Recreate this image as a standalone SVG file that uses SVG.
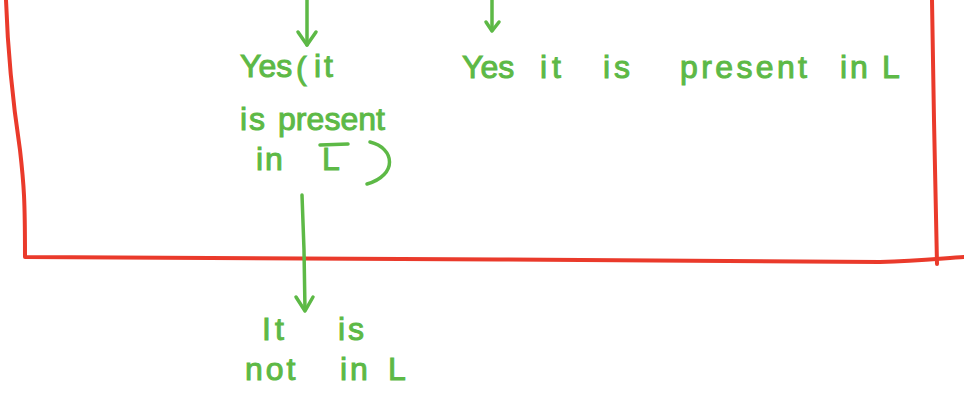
<svg xmlns="http://www.w3.org/2000/svg" width="964" height="396" viewBox="0 0 964 396">
<style>
.red{fill:none;stroke:#ea3a2b;stroke-width:4;stroke-linecap:round;stroke-linejoin:round}
.g{fill:none;stroke:#5db946;stroke-width:3.5;stroke-linecap:round;stroke-linejoin:round}
.t{font-family:"Liberation Sans",Arial,sans-serif;font-size:32px;fill:#5db946;stroke:#5db946;stroke-width:1}
</style>
<g id="frame">
<path class="red" d="M6,0 C8,60 14,110 20,150 C24,185 25,200 25,257 C300,258 600,260 880,262 C920,261 945,258 964,257"/>
<path class="red" d="M932,0 L934,120 L937,264"/>
</g>
<g id="connectors">
<path class="g" d="M307,0 L307,45"/>
<path class="g" d="M298,32 L307,45 L316,32"/>
<path class="g" d="M492,0 L492,30"/>
<path class="g" d="M486,22 L492,31 L499,22"/>
<path class="g" d="M302,195 L304,250 L305,310"/>
<path class="g" d="M296,297 L305,311 L313,297"/>
</g>
<g id="node-left">
<text class="t"><tspan x="240" y="77">Yes</tspan><tspan x="296" y="79">(</tspan><tspan x="314" y="77" letter-spacing="3">it</tspan></text>
<text class="t"><tspan x="240" y="130" letter-spacing="2">is</tspan><tspan x="278" y="130" textLength="107" lengthAdjust="spacing">present</tspan></text>
<text class="t"><tspan x="256" y="170" letter-spacing="2">in</tspan><tspan x="322" y="170">L</tspan></text>
<path class="g" d="M320,145 L348,144"/>
<path class="g" d="M370,142 C395,148 398,175 367,184"/>
</g>
<g id="node-right">
<text class="t"><tspan x="462" y="78">Yes</tspan><tspan x="540" y="78" letter-spacing="5">it</tspan><tspan x="603" y="78" letter-spacing="4">is</tspan><tspan x="680" y="78" textLength="127" lengthAdjust="spacing">present</tspan><tspan x="840" y="78" letter-spacing="3">in</tspan><tspan x="882" y="78">L</tspan></text>
</g>
<g id="node-bottom">
<text class="t"><tspan x="262" y="340" letter-spacing="4">It</tspan><tspan x="338" y="340" letter-spacing="3">is</tspan></text>
<text class="t"><tspan x="245" y="380" letter-spacing="3">not</tspan><tspan x="340" y="380" letter-spacing="3">in</tspan><tspan x="388" y="380">L</tspan></text>
</g>
</svg>
